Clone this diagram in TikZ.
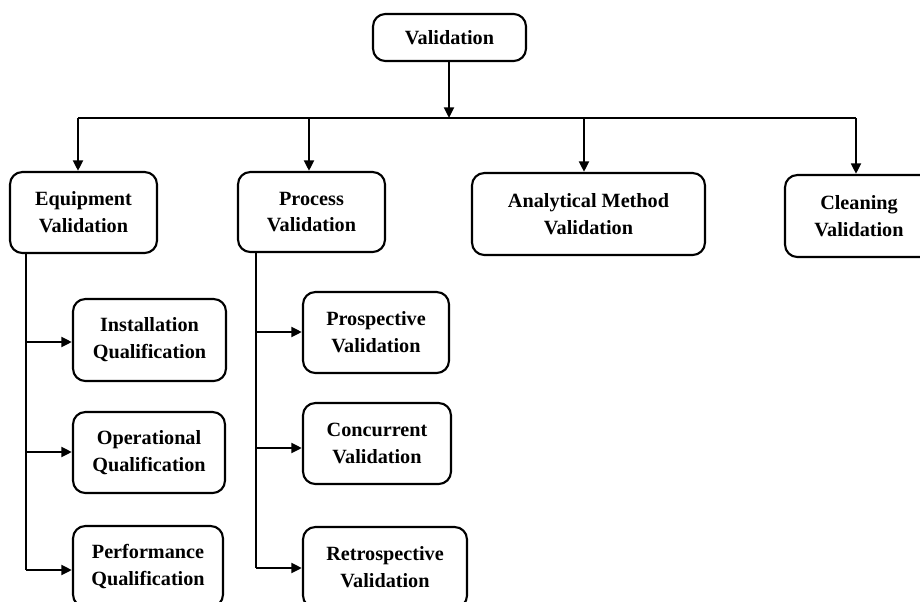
\documentclass[tikz,border=0pt]{standalone}
\usepackage{fontspec}
\setmainfont{Liberation Serif}
\usetikzlibrary{arrows.meta}
\begin{document}
\begin{tikzpicture}[x=0.02cm,y=-0.02cm,
  box/.style={draw,rounded corners=7pt,line width=1.2pt,align=center,
    font=\fontsize{11.5pt}{15.3pt}\selectfont\bfseries,inner sep=0pt},
  bus/.style={line width=0.7pt},
  arr/.style={line width=1.5pt,-{Triangle[length=6pt,width=5.5pt]}}]
\useasboundingbox (0,0) rectangle (920,602);
\clip (0,0) rectangle (920,602);
\fill[white] (0,0) rectangle (920,602);
% nodes
\node[box,minimum width=3.06cm,minimum height=0.94cm] (val) at (449.5,37.5) {Validation};
\node[box,minimum width=2.94cm,minimum height=1.62cm] (eq) at (83.5,212.5) {Equipment\\Validation};
\node[box,minimum width=2.94cm,minimum height=1.60cm] (pr) at (311.5,212) {Process\\Validation};
\node[box,minimum width=4.66cm,minimum height=1.64cm] (an) at (588.5,214) {Analytical Method\\Validation};
\node[box,minimum width=2.96cm,minimum height=1.64cm] (cl) at (859,216) {Cleaning\\Validation};
\node[box,minimum width=3.06cm,minimum height=1.64cm] (iq) at (149.5,340) {Installation\\Qualification};
\node[box,minimum width=3.04cm,minimum height=1.62cm] (oq) at (149,452.5) {Operational\\Qualification};
\node[box,minimum width=3.00cm,minimum height=1.62cm] (pq) at (148,566.5) {Performance\\Qualification};
\node[box,minimum width=2.92cm,minimum height=1.62cm] (pv) at (376,332.5) {Prospective\\Validation};
\node[box,minimum width=2.96cm,minimum height=1.62cm] (cv) at (377,443.5) {Concurrent\\Validation};
\node[box,minimum width=3.28cm,minimum height=1.62cm] (rv) at (385,567.5) {Retrospective\\Validation};
% bus
\coordinate (bm) at (449,118);
\coordinate (b1) at (78,118);
\coordinate (b2) at (309,118);
\coordinate (b3) at (584,118);
\coordinate (b4) at (856,118);
\draw[arr] (val.south -| bm) -- (bm);
\draw[bus] (b1) -- (b4);
\draw[arr] (b1) -- (b1 |- eq.north);
\draw[arr] (b2) -- (b2 |- pr.north);
\draw[arr] (b3) -- (b3 |- an.north);
\draw[arr] (b4) -- (b4 |- cl.north);
% equipment branch
\coordinate (e0) at (26,253);
\coordinate (e1) at (26,342);
\coordinate (e2) at (26,452);
\coordinate (e3) at (26,570);
\draw[bus] (e0) -- (e3);
\draw[arr] (e1) -- (e1 -| iq.west);
\draw[arr] (e2) -- (e2 -| oq.west);
\draw[arr] (e3) -- (e3 -| pq.west);
% process branch
\coordinate (p0) at (256,252);
\coordinate (p1) at (256,332);
\coordinate (p2) at (256,448);
\coordinate (p3) at (256,568);
\draw[bus] (p0) -- (p3);
\draw[arr] (p1) -- (p1 -| pv.west);
\draw[arr] (p2) -- (p2 -| cv.west);
\draw[arr] (p3) -- (p3 -| rv.west);
\end{tikzpicture}
\end{document}
